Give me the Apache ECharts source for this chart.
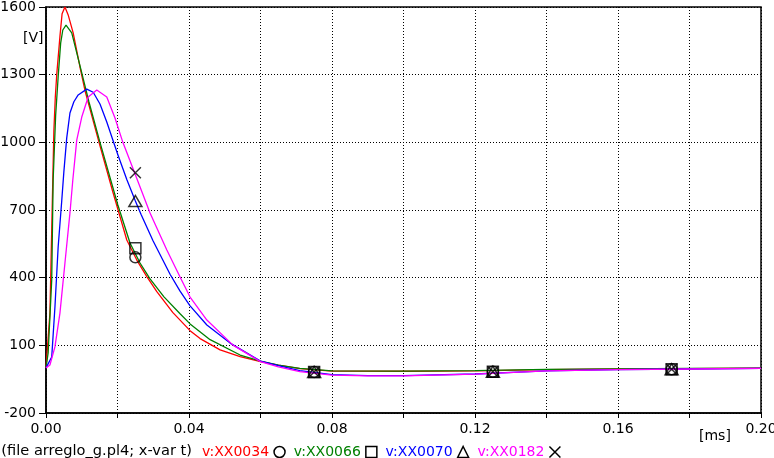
<!DOCTYPE html>
<html>
<head>
<meta charset="utf-8">
<script src="https://cdn.jsdelivr.net/npm/echarts@6/dist/echarts.min.js"></script>
<style>
  html, body { margin: 0; padding: 0; background: #fff; }
  #chart { width: 774px; height: 458px; }
</style>
</head>
<body>
<div id="chart"></div>
<script>
// time in ms, voltage in V
const tRed = [0, 0.0011, 0.0016, 0.0019, 0.0022, 0.0026, 0.0030, 0.0039, 0.0045, 0.0053, 0.0062, 0.0076, 0.0095, 0.0109, 0.0132, 0.0151, 0.0187, 0.0226, 0.0254, 0.0282, 0.0310, 0.0355, 0.0403, 0.0431, 0.0487, 0.0543, 0.0600, 0.0650, 0.0710, 0.080, 0.100, 0.120, 0.140, 0.160, 0.180, 0.200];
const vRed = [0, 243, 611, 833, 1050, 1200, 1300, 1470, 1570, 1600, 1565, 1485, 1334, 1230, 1095, 985, 780, 567, 478, 405, 338, 245, 165, 130, 80, 50, 28, 12, -3, -14, -15, -13, -8, -5, -3, -1];

const tGreen = [0, 0.0006, 0.0016, 0.0020, 0.0027, 0.0034, 0.0041, 0.0047, 0.0056, 0.0072, 0.0095, 0.0120, 0.0151, 0.0201, 0.0235, 0.0263, 0.0291, 0.0330, 0.0375, 0.0403, 0.0459, 0.0543, 0.0600, 0.0650, 0.0710, 0.080, 0.100, 0.120, 0.140, 0.160, 0.180, 0.200];
const vGreen = [0, 66, 390, 833, 1120, 1290, 1440, 1498, 1520, 1485, 1340, 1180, 1000, 722, 554, 465, 395, 315, 240, 195, 125, 57, 30, 12, -2, -13, -14, -12, -7, -4, -2, -1];

const tBlue = [0, 0.0016, 0.0025, 0.0034, 0.0044, 0.0050, 0.0058, 0.0067, 0.0078, 0.0090, 0.0114, 0.0132, 0.0151, 0.0170, 0.0187, 0.0201, 0.0226, 0.0250, 0.0266, 0.0299, 0.0347, 0.0375, 0.0403, 0.0450, 0.0515, 0.0600, 0.0650, 0.0710, 0.080, 0.090, 0.100, 0.120, 0.140, 0.160, 0.180, 0.200];
const vBlue = [0, 48, 270, 536, 740, 870, 1020, 1130, 1180, 1210, 1236, 1222, 1170, 1090, 1010, 945, 835, 740, 680, 565, 415, 340, 275, 190, 110, 30, 10, -12, -30, -34, -34, -27, -13, -8, -5, -2];

const tMagenta = [0, 0.0011, 0.0025, 0.0039, 0.0053, 0.0067, 0.0075, 0.0086, 0.0100, 0.0118, 0.0142, 0.0170, 0.0193, 0.0215, 0.0254, 0.0291, 0.0338, 0.0375, 0.0403, 0.0450, 0.0523, 0.0600, 0.0650, 0.0710, 0.080, 0.090, 0.100, 0.120, 0.140, 0.160, 0.180, 0.200];
const vMagenta = [0, 13, 93, 243, 465, 687, 833, 1010, 1112, 1201, 1232, 1201, 1108, 1000, 840, 687, 523, 403, 314, 212, 101, 28, 5, -17, -32, -35, -35, -28, -13, -8, -5, -2];

// marker positions along the curves
const tMarks = [0.025, 0.075, 0.125, 0.175];
const mRed = [490, -18, -17, -6];
const mGreen = [530, -18, -17, -6];
const mBlue = [740, -18, -17, -6];
const mMagenta = [865, -18, -17, -6];

const seriesNames = ['v:XX0034', 'v:XX0066', 'v:XX0070', 'v:XX0182'];
const seriesColors = ['#ff0000', '#008000', '#0000ff', '#ff00ff'];
const xTicks = [0, 0.04, 0.08, 0.12, 0.16, 0.20];

const FONT = 'DejaVu Sans';
const crossPath = 'path://M0,0L10,10M10,0L0,10';
const markSymbols = ['circle', 'rect', 'triangle', crossPath];

const zip = (ts, vs) => ts.map((t, i) => [t, vs[i]]);

const curves = [zip(tRed, vRed), zip(tGreen, vGreen), zip(tBlue, vBlue), zip(tMagenta, vMagenta)];
const marks = [mRed, mGreen, mBlue, mMagenta].map(m => zip(tMarks, m));

const hollow = { color: 'rgba(0,0,0,0)', borderColor: '#000', borderWidth: 1.5 };

const lineSeries = curves.map((d, i) => ({
    name: seriesNames[i],
    type: 'line',
    data: d,
    showSymbol: false,
    lineStyle: { color: seriesColors[i], width: 1.3 },
    itemStyle: { color: seriesColors[i] },
    z: 2
}));

const markSeries = marks.map((d, i) => ({
    name: 'mark' + i,
    type: 'scatter',
    data: d,
    symbol: markSymbols[i],
    symbolSize: i === 2 ? [13, 11] : 11,
    itemStyle: hollow,
    z: 3
}));

const chart = echarts.init(document.getElementById('chart'));

chart.setOption({
    animation: false,
    grid: {
        left: 46, right: 13, top: 7, bottom: 45,
        outerBoundsMode: 'none',
        containLabel: false,
        show: true, borderColor: '#000', borderWidth: 1.5
    },
    xAxis: {
        type: 'value',
        min: 0, max: 0.2, interval: 0.02,
        axisLine: { onZero: false, lineStyle: { color: '#000', width: 1.5 } },
        axisTick: { show: true, inside: false, length: 5, lineStyle: { color: '#000' } },
        axisLabel: {
            color: '#000', fontFamily: FONT, fontSize: 14, margin: 9,
            formatter: v => xTicks.some(x => Math.abs(x - v) < 1e-9) ? v.toFixed(2) : ''
        },
        splitLine: { show: true, lineStyle: { color: '#000', type: [1, 2], width: 1 } }
    },
    yAxis: {
        type: 'value',
        min: -200, max: 1600, interval: 300,
        axisLine: { show: true, onZero: false, lineStyle: { color: '#000', width: 1.5 } },
        axisTick: { show: true, inside: false, length: 7, lineStyle: { color: '#000' } },
        axisLabel: { color: '#000', fontFamily: FONT, fontSize: 14, margin: 10, formatter: v => String(v) },
        splitLine: { show: true, lineStyle: { color: '#000', type: [1, 2], width: 1 } }
    },
    legend: {
        left: 202, top: 445,
        padding: 0,
        align: 'right',
        itemGap: 8,
        itemWidth: 11, itemHeight: 11,
        itemStyle: hollow,
        textStyle: { fontFamily: FONT, fontSize: 14 },
        data: seriesNames.map((n, i) => ({
            name: n,
            icon: markSymbols[i],
            itemStyle: hollow,
            textStyle: { color: seriesColors[i] }
        }))
    },
    graphic: [
        { type: 'text', left: 23, top: 31, style: { text: '[V]', font: '14px "' + FONT + '"', fill: '#000' } },
        { type: 'text', left: 699, top: 429, style: { text: '[ms]', font: '14px "' + FONT + '"', fill: '#000' } },
        { type: 'text', right: 582, top: 444, style: { text: '(file arreglo_g.pl4; x-var t)', font: '14.6px "' + FONT + '"', fill: '#000' } }
    ],
    series: lineSeries.concat(markSeries)
});
</script>
</body>
</html>
